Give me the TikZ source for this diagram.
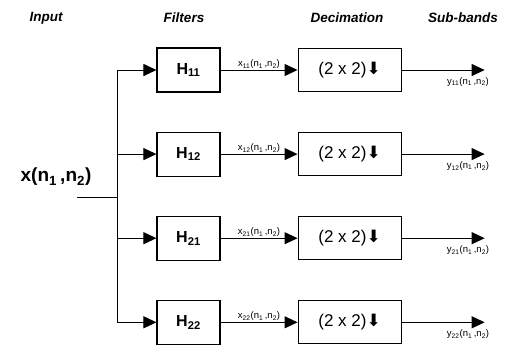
\documentclass[tikz,border=0pt]{standalone}
\usepackage{fontspec}
\setmainfont{Liberation Sans}
\newfontfamily\symfont{DejaVu Sans}
\usepackage{tikz}
\usetikzlibrary{arrows.meta,positioning}

\begin{document}
\begin{tikzpicture}[x=1pt, y=-1pt, node distance=39pt, every node/.style={inner sep=1pt}]
        \tikzset{
            hd/.style={font=\fontsize{13.5}{15}\selectfont\bfseries\itshape},
            filt/.style={draw, line width=1.1pt, minimum width=63pt, minimum height=44pt, font=\fontsize{16}{18}\selectfont\bfseries},
            dec/.style={draw, line width=1.1pt, minimum width=103pt, minimum height=43pt, font=\fontsize{17}{19}\selectfont},
            lbl/.style={font=\fontsize{9.5}{11}\selectfont},
            arr/.style={-{Triangle[length=13pt,width=12pt]}, line width=1pt},
            ln/.style={line width=1pt}
        }
        \useasboundingbox (0,0) rectangle (517,349);
        % column heads
        \node[hd] (hin) at (46,18) {Input};
        \node[hd] (hfi) at (184,18) {Filters};
        \node[hd] (hde) at (347,18) {Decimation};
        \node[hd] (hsb) at (463,18) {Sub-bands};
        % input signal
        \node[font=\fontsize{19}{21}\selectfont\bfseries] (in) at (56,177) {x(n\textsubscript{1}\,,n\textsubscript{2})};
        \coordinate (inl) at (77,197);
        \coordinate (bus) at (117,197);
        % filters
        \node[filt] (h11) at (188.5,70) {H\textsubscript{11}};
        \node[filt, below=of h11] (h12) {H\textsubscript{12}};
        \node[filt, below=of h12] (h21) {H\textsubscript{21}};
        \node[filt, below=of h21] (h22) {H\textsubscript{22}};
        % decimators
        \node[dec, right=77pt of h11] (d11) {(2 x 2){\symfont ⬇}};
        \node[dec, right=77pt of h12] (d12) {(2 x 2){\symfont ⬇}};
        \node[dec, right=77pt of h21] (d21) {(2 x 2){\symfont ⬇}};
        \node[dec, right=77pt of h22] (d22) {(2 x 2){\symfont ⬇}};
        % sub-band outputs
        \coordinate[right=83pt of d11.east] (o11);
        \coordinate[right=83pt of d12.east] (o12);
        \coordinate[right=83pt of d21.east] (o21);
        \coordinate[right=83pt of d22.east] (o22);
        % connections
        \draw[ln] (inl) -- (bus);
        \draw[ln] (bus |- h11) -- (bus |- h22);
        \draw[arr] (bus |- h11) -- (h11);
        \draw[arr] (bus |- h12) -- (h12);
        \draw[arr] (bus |- h21) -- (h21);
        \draw[arr] (bus |- h22) -- (h22);
        \draw[arr] (h11) -- node[lbl, above] {x\textsubscript{11}(n\textsubscript{1}\,,n\textsubscript{2})} (d11);
        \draw[arr] (h12) -- node[lbl, above] {x\textsubscript{12}(n\textsubscript{1}\,,n\textsubscript{2})} (d12);
        \draw[arr] (h21) -- node[lbl, above] {x\textsubscript{21}(n\textsubscript{1}\,,n\textsubscript{2})} (d21);
        \draw[arr] (h22) -- node[lbl, above] {x\textsubscript{22}(n\textsubscript{1}\,,n\textsubscript{2})} (d22);
        \draw[arr] (d11) -- node[lbl, below=6pt, pos=0.8] {y\textsubscript{11}(n\textsubscript{1}\,,n\textsubscript{2})} (o11);
        \draw[arr] (d12) -- node[lbl, below=6pt, pos=0.8] {y\textsubscript{12}(n\textsubscript{1}\,,n\textsubscript{2})} (o12);
        \draw[arr] (d21) -- node[lbl, below=6pt, pos=0.8] {y\textsubscript{21}(n\textsubscript{1}\,,n\textsubscript{2})} (o21);
        \draw[arr] (d22) -- node[lbl, below=6pt, pos=0.8] {y\textsubscript{22}(n\textsubscript{1}\,,n\textsubscript{2})} (o22);
    \end{tikzpicture}
\end{document}
